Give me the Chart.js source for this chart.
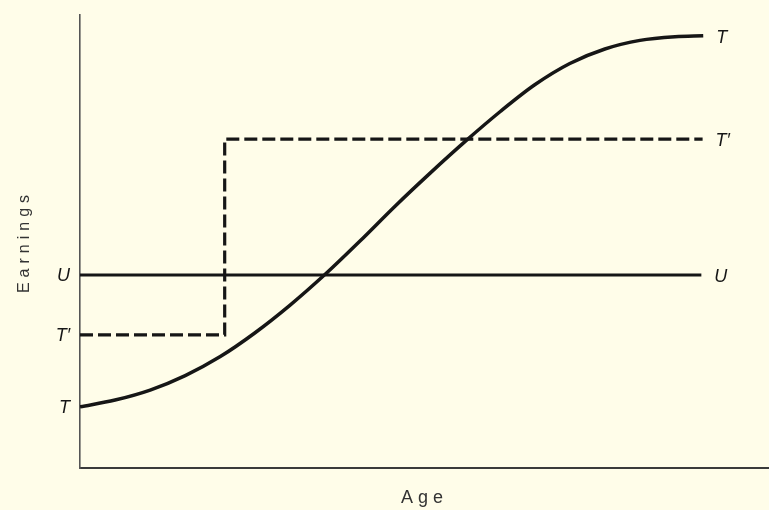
<!DOCTYPE html>
<html>
<head>
<meta charset="utf-8">
<script src="https://cdn.jsdelivr.net/npm/chart.js@4/dist/chart.umd.min.js"></script>
<style>
  html, body { margin: 0; padding: 0; background: #fffde9; }
  #wrap { width: 769px; height: 510px; }
</style>
</head>
<body>
<div id="wrap"><canvas id="c" width="769" height="510"></canvas></div>
<script>
// Age axis runs 0..110 (arbitrary units), earnings 0..100 (arbitrary units)
const curveT_age      = [0, 5.6, 11.2, 16.8, 22.4, 27.9, 33.5, 39.1, 44.7, 50.3, 55.9, 61.5, 67.1, 72.6, 78.2, 83.8, 89.4, 95.0, 99.5];
const curveT_earnings = [13.5, 15.0, 17.2, 20.4, 24.6, 29.8, 35.9, 42.7, 50.1, 57.8, 65.1, 72.1, 78.7, 84.6, 89.3, 92.5, 94.4, 95.2, 95.4];

const lineU_age      = [0, 99.2];
const lineU_earnings = [42.6, 42.6];

const lineTp_age      = [0, 23.1, 23.1, 99.4];
const lineTp_earnings = [29.4, 29.4, 72.6, 72.6];

const seriesLabels = ["T", "U", "T\u2032"];
const xTitle = "Age";
const yTitle = "Earnings";

const toPts = (xs, ys) => xs.map((x, i) => ({ x: x, y: ys[i] }));

const ink = "#161616";
const labelFont = "italic 18px 'Liberation Sans', Arial, sans-serif";

const bgPlugin = {
  id: "bg",
  beforeDraw(chart) {
    const ctx = chart.ctx;
    ctx.save();
    ctx.fillStyle = "#fffde9";
    ctx.fillRect(0, 0, chart.width, chart.height);
    ctx.restore();
    ctx.letterSpacing = "5px";
  },
  afterDraw(chart) {
    chart.ctx.letterSpacing = "0px";
  }
};

const endLabels = {
  id: "endLabels",
  afterDatasetsDraw(chart) {
    const ctx = chart.ctx;
    ctx.save();
    ctx.letterSpacing = "0px";
    ctx.font = labelFont;
    ctx.fillStyle = ink;
    ctx.textBaseline = "middle";
    const left = chart.chartArea.left;
    chart.data.datasets.forEach((ds, i) => {
      const meta = chart.getDatasetMeta(i);
      const first = meta.data[0];
      const last = meta.data[meta.data.length - 1];
      ctx.textAlign = "right";
      ctx.fillText(ds.label, left - 10, first.y + 1);
      ctx.textAlign = "left";
      ctx.fillText(ds.label, last.x + 13, last.y + 2);
    });
    ctx.restore();
  }
};

new Chart(document.getElementById("c"), {
  type: "line",
  data: {
    datasets: [
      {
        label: seriesLabels[0],
        data: toPts(curveT_age, curveT_earnings),
        borderColor: ink,
        borderWidth: 3.5,
        pointRadius: 0,
        cubicInterpolationMode: "monotone",
        fill: false
      },
      {
        label: seriesLabels[1],
        data: toPts(lineU_age, lineU_earnings),
        borderColor: ink,
        borderWidth: 3.2,
        pointRadius: 0,
        fill: false
      },
      {
        label: seriesLabels[2],
        data: toPts(lineTp_age, lineTp_earnings),
        borderColor: ink,
        borderWidth: 3.2,
        borderDash: [13, 5],
        pointRadius: 0,
        tension: 0,
        fill: false
      }
    ]
  },
  options: {
    responsive: false,
    animation: false,
    devicePixelRatio: 1,
    layout: { padding: { left: 0, top: 15, right: 0, bottom: 0 } },
    plugins: {
      legend: { display: false },
      tooltip: { enabled: false }
    },
    scales: {
      x: {
        type: "linear",
        min: 0,
        max: 110,
        grid: { display: false, drawTicks: false },
        border: { display: true, color: "#3a3a3a", width: 2 },
        ticks: { display: false },
        title: {
          display: true,
          text: xTitle,
          color: "#333",
          font: { family: "'Liberation Sans', Arial, sans-serif", size: 18, lineHeight: 1.2 },
          padding: { top: 19.2, bottom: 1.2 }
        }
      },
      y: {
        type: "linear",
        min: 0,
        max: 100,
        grid: { display: false, drawTicks: false },
        border: { display: true, color: "#555", width: 1.6 },
        ticks: { display: false },
        title: {
          display: true,
          text: yTitle,
          color: "#333",
          font: { family: "'Liberation Sans', Arial, sans-serif", size: 16, lineHeight: 1.2 },
          padding: { top: 15.4, bottom: 45.4 }
        }
      }
    }
  },
  plugins: [bgPlugin, endLabels]
});
</script>
</body>
</html>
